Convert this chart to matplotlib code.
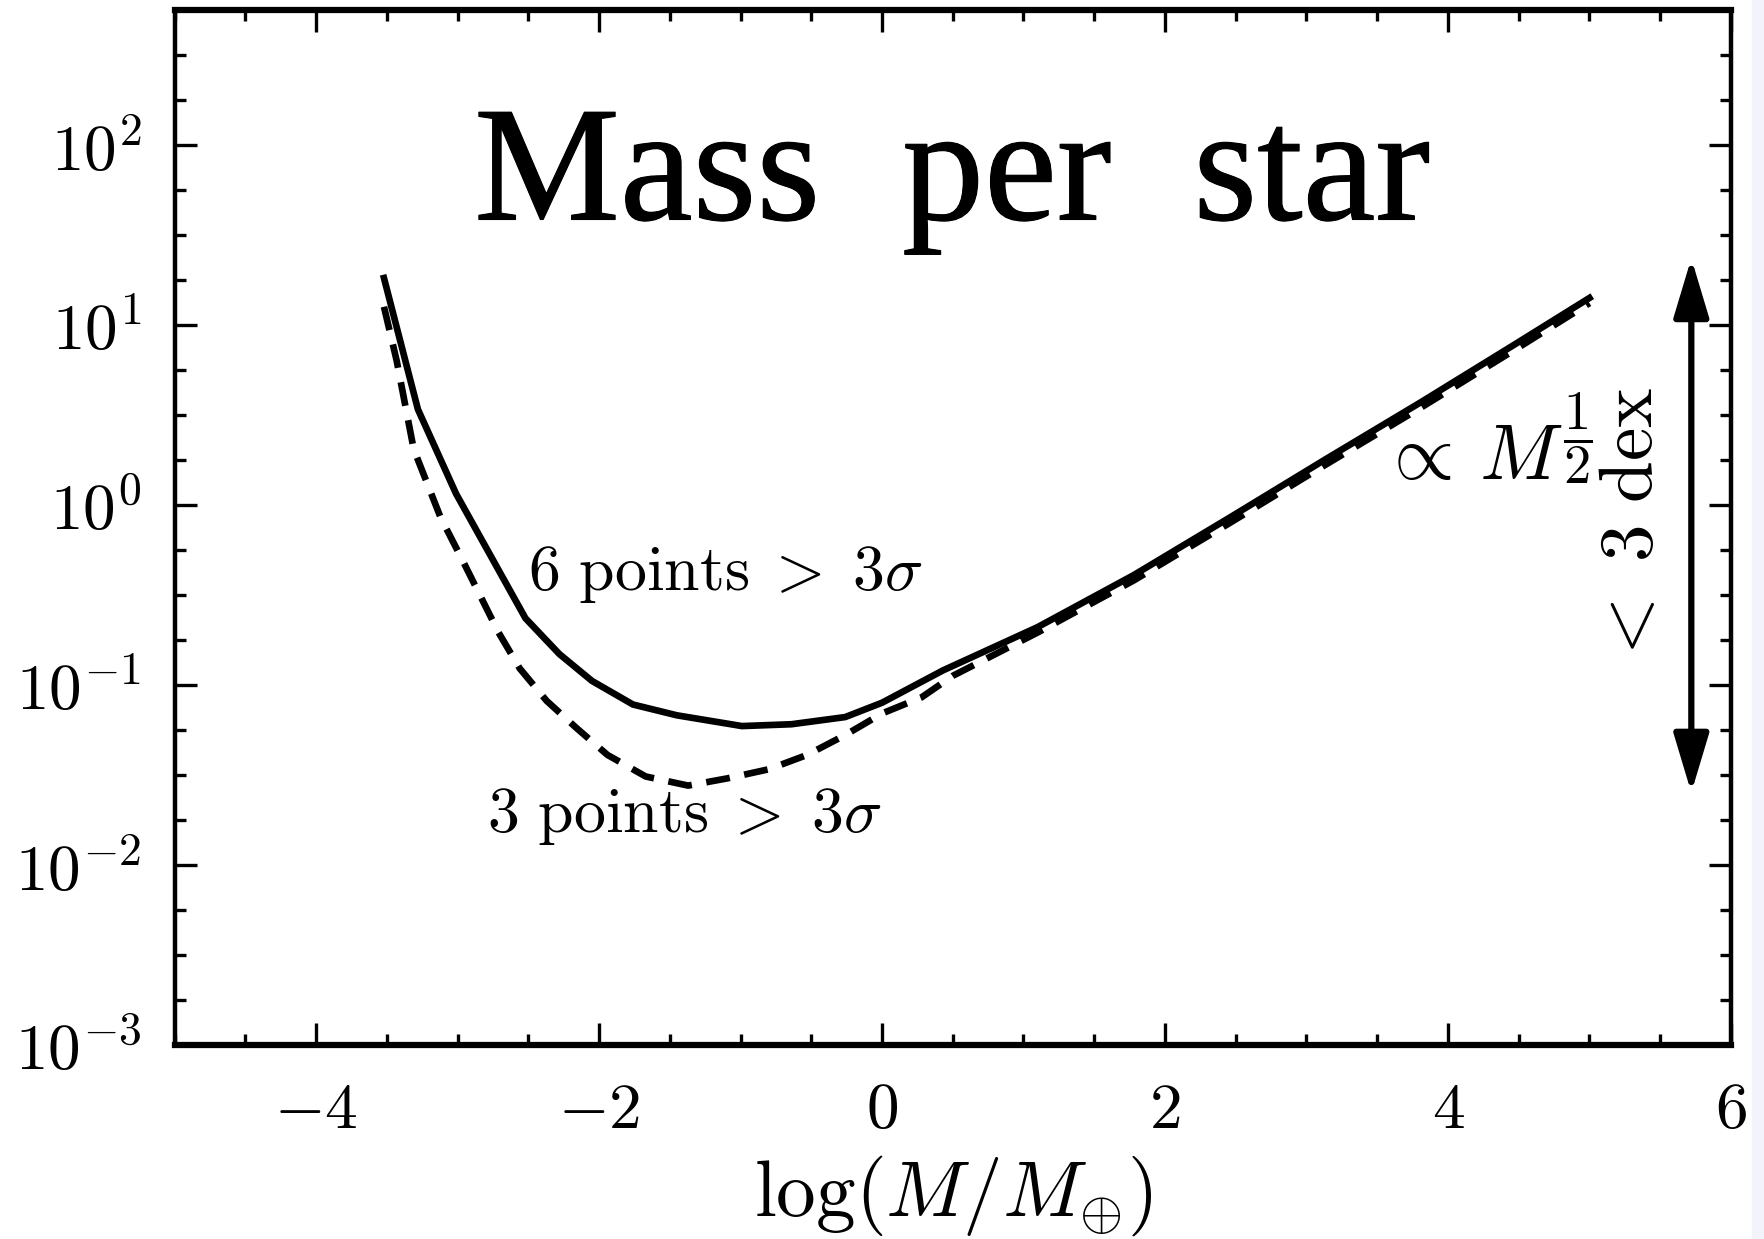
import matplotlib.pyplot as plt
import matplotlib.ticker as ticker
import matplotlib.patheffects as pe
import numpy as np
from matplotlib.patches import Rectangle

plt.rcParams['mathtext.fontset'] = 'cm'

# solid curve: 6 points > 3 sigma
mass_6pt = [-3.52, -3.28, -3.01, -2.52, -2.28, -2.05, -1.76, -1.45, -0.99, -0.64,
            -0.26, 0.0, 0.43, 1.1, 1.78, 2.46, 3.13, 3.81, 4.49, 5.0]
value_6pt = [18.2, 3.39, 1.15, 0.234, 0.148, 0.105, 0.0776, 0.0676, 0.0589, 0.0603,
             0.0661, 0.0794, 0.120, 0.209, 0.407, 0.851, 1.78, 3.72, 7.94, 14.1]

# dashed curve: 3 points > 3 sigma
mass_3pt = [-3.52, -3.43, -3.31, -3.12, -2.97, -2.71, -2.56, -2.37, -2.16, -1.94,
            -1.67, -1.37, -1.09, -0.80, -0.53, -0.26, 0.0, 0.28, 0.5, 1.1,
            1.78, 2.46, 3.13, 3.81, 4.49, 5.0]
value_3pt = [12.6, 6.31, 2.04, 0.851, 0.501, 0.195, 0.123, 0.0813, 0.0575, 0.0407,
             0.0309, 0.0275, 0.0302, 0.0339, 0.0407, 0.0525, 0.0692, 0.0851, 0.112, 0.195,
             0.380, 0.794, 1.66, 3.47, 7.41, 13.2]

fig = plt.figure(figsize=(17.65, 12.39), dpi=100)
# faint slide background showing at the right edge
fig.patches.append(Rectangle((0.9926, 0), 0.0074, 1, transform=fig.transFigure,
                             color='#f3f3fc', zorder=0))

ax = fig.add_axes([0.0989, 0.1569, 0.8818, 0.8351])
ax.plot(mass_6pt, value_6pt, 'k-', lw=4.8)
ax.plot(mass_3pt, value_3pt, 'k--', lw=4.8, dashes=(3.6, 2.2))

ax.set_yscale('log')
ax.set_xlim(-5, 6)
ax.set_ylim(1e-3, 10**2.75)

ax.xaxis.set_major_locator(ticker.MultipleLocator(2))
ax.xaxis.set_minor_locator(ticker.MultipleLocator(0.5))
ax.yaxis.set_major_locator(ticker.FixedLocator(10.0**np.arange(-3, 3)))
ax.yaxis.set_minor_locator(ticker.FixedLocator(10.0**(np.arange(-12, 12) / 4)))
ax.xaxis.set_major_formatter(ticker.FuncFormatter(lambda v, p: r'$%d$' % round(v)))
ax.yaxis.set_major_formatter(ticker.FuncFormatter(lambda v, p: r'$10^{%d}$' % round(np.log10(v))))
ax.yaxis.set_minor_formatter(ticker.NullFormatter())
ax.tick_params(which='both', direction='in', top=True, right=True, width=2.4,
               labelsize=47, pad=24)
ax.tick_params(which='major', length=16)
ax.tick_params(which='minor', length=8)

for side in ['left', 'right']:
    ax.spines[side].set_linewidth(3.2)
for side in ['top', 'bottom']:
    ax.spines[side].set_linewidth(4.5)

ax.set_xlabel(r'$\log(M/M_{\oplus})$', fontsize=57, labelpad=8)

ax.text(-2.5, 0.335, r'$6\ \mathrm{points}\;>\;3\sigma$', fontsize=46, ha='left', va='baseline')
ax.text(-2.79, 0.0152, r'$3\ \mathrm{points}\;>\;3\sigma$', fontsize=46, ha='left', va='baseline')
ax.text(3.52, 1.35, r'$\propto\,M^{\dfrac{1}{2}}$', fontsize=56, ha='left', va='baseline')
ax.text(5.30, 0.75, r'$<\ 3\ \mathrm{dex}$', fontsize=54, rotation=90, ha='center', va='center')

ax.annotate('', xy=(5.72, 10**-1.60), xytext=(5.72, 10**1.37),
            arrowprops=dict(arrowstyle='<|-|>,head_length=1.0,head_width=0.3',
                            mutation_scale=36, lw=4.5, color='k', shrinkA=0, shrinkB=0))

fig.text(952 / 1765, 1 - 219.5 / 1239, 'Mass  per  star', family='Liberation Serif',
         fontsize=118, ha='center', va='baseline',
         path_effects=[pe.withStroke(linewidth=0.8, foreground='k')])

fig.savefig('out.png', dpi=100)
